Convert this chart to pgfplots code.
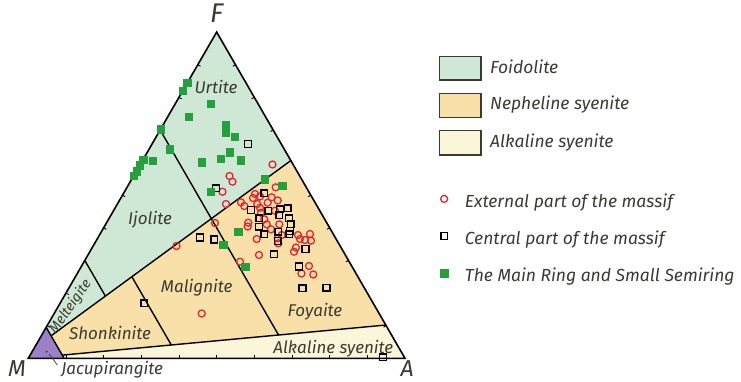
\documentclass[border=0pt]{standalone}
\usepackage{pgfplots}
\pgfplotsset{compat=1.18}
\usepackage{fontspec}
\setmainfont{Fira Sans}
\definecolor{foid}{HTML}{CFE8D6}
\definecolor{neph}{HTML}{F8E0A8}
\definecolor{alks}{HTML}{FBF5DA}
\definecolor{jacu}{HTML}{9C80C8}
\definecolor{labc}{HTML}{3A3A30}
\definecolor{cRed}{HTML}{E0262E}
\definecolor{cGreen}{HTML}{26A03F}

% points in triangle units: M=(0,0), A=(100,0), F=(50,86.6)
\pgfplotstableread{
u v
64.83 51.45
53.41 48.39
54.21 46.88
51.55 44.22
52.48 40.96
49.56 35.92
39.34 29.81
46.03 11.89
56.20 25.64
61.24 27.42
65.67 45.39
60.18 43.62
61.51 42.95
64.61 42.74
66.21 41.89
56.46 41.41
57.34 40.43
60.79 40.96
63.55 41.31
61.51 39.98
65.49 39.18
61.77 38.65
62.65 36.90
63.29 35.57
58.40 36.00
58.24 34.99
64.43 34.24
66.63 35.57
60.63 31.67
66.21 31.86
67.27 32.73
66.37 30.53
71.59 32.73
72.13 31.67
73.45 31.40
74.78 33.00
75.05 31.22
71.06 29.41
70.53 28.30
74.52 24.50
72.52 22.51
75.66 22.25
59.65 42.55
}\external
\pgfplotstableread{
u v
58.32 56.89
49.83 45.13
45.58 32.07
49.38 31.54
30.79 14.60
94.20 0.30
72.79 18.58
79.16 18.71
62.65 43.80
59.12 39.37
63.71 39.18
66.82 39.55
68.86 39.82
66.63 38.04
61.32 37.16
69.21 37.16
69.66 35.65
61.24 34.93
66.37 33.61
69.47 33.79
62.65 32.92
69.29 32.92
66.21 31.14
73.58 29.01
65.22 27.61
71.86 24.37
}\central
\pgfplotstableread{
u v
41.00 71.00
42.20 73.10
48.42 67.64
42.66 64.14
52.35 62.06
52.35 60.07
54.74 58.75
35.10 60.80
37.48 55.56
53.41 54.76
51.15 52.91
56.33 52.64
46.03 52.11
32.97 52.51
30.50 52.80
29.60 51.30
28.70 49.70
28.00 48.50
62.70 47.60
67.35 45.87
48.37 44.22
55.75 33.61
51.76 30.08
57.53 24.24
}\mainring

\begin{document}
\begin{tikzpicture}
\begin{axis}[
  x={(3.767pt,0)}, y={(0,3.767pt)},
  xmin=-7.513, xmax=189.2, ymin=-6.026, ymax=95.12,
  hide axis, clip=false,
  legend cell align=left,
  legend image code/.code={\draw[#1] plot[only marks] coordinates {(0pt,4.5pt)}; \path (-4pt,0pt) (20pt,0pt);},
  legend style={draw=none, fill=none, at={(axis cs:109.1,43.3)}, anchor=north west,
    row sep=21pt, inner sep=0pt,
    nodes={inner sep=0pt, text height=12pt, text depth=4pt, text=labc,
      font=\fontsize{17.5}{20}\selectfont\itshape}},
]
\path (rel axis cs:0,0) rectangle (rel axis cs:1,1);
% regions
\addplot[forget plot, draw=none, fill=foid] coordinates {(4.75,8.23) (50,86.6) (69.7,52.5) (6.05,5.98)} --cycle;
\addplot[forget plot, draw=none, fill=neph] coordinates {(6.05,5.98) (69.7,52.5) (94.9,8.83) (9.01,0.845)} --cycle;
\addplot[forget plot, draw=none, fill=alks] coordinates {(9.01,0.845) (94.9,8.83) (100,0) (9.5,0)} --cycle;
\addplot[forget plot, draw=none, fill=jacu] coordinates {(0,0) (9.5,0) (4.75,8.23)} --cycle;
% boundaries
\pgfplotsset{every axis plot/.append style={line width=1.4pt, black}}
\addplot[forget plot] coordinates {(6.05,5.98) (69.7,52.5)};
\addplot[forget plot] coordinates {(9.01,0.845) (94.9,8.83)};
\addplot[forget plot] coordinates {(9.5,0) (4.75,8.23)};
\addplot[forget plot] coordinates {(15,25.98) (20.47,16.51)};
\addplot[forget plot] coordinates {(35,60.62) (66.43,6.18)};
\addplot[forget plot] coordinates {(27.5,21.65) (37.96,3.54)};
\addplot[forget plot, line width=1.6pt] coordinates {(0,0) (100,0) (50,86.6)} --cycle;
% small ticks on the sides
\pgfplotsinvokeforeach{10,20,30,40,50,60,70,80,90}{\draw[line width=0.9pt] (axis cs:#1,0) -- (axis cs:#1,0.9);}
\draw[line width=0.9pt] (axis cs:5,8.66) -- ++(axis direction cs:0.7,-0.4);
\draw[line width=0.9pt] (axis cs:10,17.32) -- ++(axis direction cs:0.7,-0.4);
\draw[line width=0.9pt] (axis cs:20,34.64) -- ++(axis direction cs:0.7,-0.4);
\draw[line width=0.9pt] (axis cs:25,43.30) -- ++(axis direction cs:0.7,-0.4);
\draw[line width=0.9pt] (axis cs:30,51.96) -- ++(axis direction cs:0.7,-0.4);
\draw[line width=0.9pt] (axis cs:40,69.28) -- ++(axis direction cs:0.7,-0.4);
\draw[line width=0.9pt] (axis cs:45,77.94) -- ++(axis direction cs:0.7,-0.4);
\draw[line width=0.9pt] (axis cs:95,8.66) -- ++(axis direction cs:-0.7,-0.4);
\draw[line width=0.9pt] (axis cs:85,25.98) -- ++(axis direction cs:-0.7,-0.4);
\draw[line width=0.9pt] (axis cs:80,34.64) -- ++(axis direction cs:-0.7,-0.4);
\draw[line width=0.9pt] (axis cs:75,43.30) -- ++(axis direction cs:-0.7,-0.4);
\draw[line width=0.9pt] (axis cs:65,60.62) -- ++(axis direction cs:-0.7,-0.4);
\draw[line width=0.9pt] (axis cs:60,69.28) -- ++(axis direction cs:-0.7,-0.4);
\draw[line width=0.9pt] (axis cs:55,77.94) -- ++(axis direction cs:-0.7,-0.4);
% data
\addplot[only marks, mark=o, mark size=3.5pt, mark options={draw=cRed, line width=1.3pt}] table[x=u, y=v] {\external};
\addlegendentry{External part of the massif}
\addplot[only marks, mark=square, mark size=3.4pt, mark options={draw=black, line width=1.5pt}] table[x=u, y=v] {\central};
\addlegendentry{Central part of the massif}
\addplot[only marks, mark=square*, mark size=3.7pt, mark options={draw=cGreen, fill=cGreen, line width=0.4pt}] table[x=u, y=v] {\mainring};
\addlegendentry{The Main Ring and Small Semiring}
% jacupirangite pointer
\fill[labc] (axis cs:4.88,1.75) circle (1.1pt);
\draw[labc, line width=0.7pt] (axis cs:5.5,1.2) -- (axis cs:7.7,-1.8);
% labels
\begin{scope}[every node/.style={text=labc, font=\fontsize{17}{20}\selectfont\itshape, inner sep=0pt}]
\node at (axis cs:49.83,71.94) {Urtite};
\node at (axis cs:32.3,36.7) {Ijolite};
\node at (axis cs:44.7,18.85) {Malignite};
\node at (axis cs:76.1,12.37) {Foyaite};
\node at (axis cs:21.7,6.64) {Shonkinite};
\node at (axis cs:80.97,2.65) {Alkaline syenite};
\node[rotate=55, font=\fontsize{14}{15}\selectfont\itshape] at (axis cs:11.2,13.6) {Melteigite};
\node[anchor=west] at (axis cs:8.7,-3.1) {Jacupirangite};
\node[font=\fontsize{27}{28}\selectfont\itshape] at (axis cs:50.0,91.7) {F};
\node[font=\fontsize{23}{24}\selectfont\itshape] at (axis cs:-3.0,-2.6) {M};
\node[font=\fontsize{23}{24}\selectfont\itshape] at (axis cs:100.6,-2.6) {A};
% area legend
\draw[fill=foid, draw=labc, line width=1.4pt] (axis cs:109.13,73.88) rectangle (axis cs:120.2,80.06);
\draw[fill=neph, draw=labc, line width=1.4pt] (axis cs:109.13,63.98) rectangle (axis cs:120.2,70.35);
\draw[fill=alks, draw=labc, line width=1.4pt] (axis cs:109.13,53.97) rectangle (axis cs:120.2,60.42);
\node[anchor=west, font=\fontsize{17.5}{20}\selectfont\itshape] at (axis cs:122.56,77.33) {Foidolite};
\node[anchor=west, font=\fontsize{17.5}{20}\selectfont\itshape] at (axis cs:122.56,67.25) {Nepheline syenite};
\node[anchor=west, font=\fontsize{17.5}{20}\selectfont\itshape] at (axis cs:122.56,57.27) {Alkaline syenite};
\end{scope}
\end{axis}
\end{tikzpicture}
\end{document}
